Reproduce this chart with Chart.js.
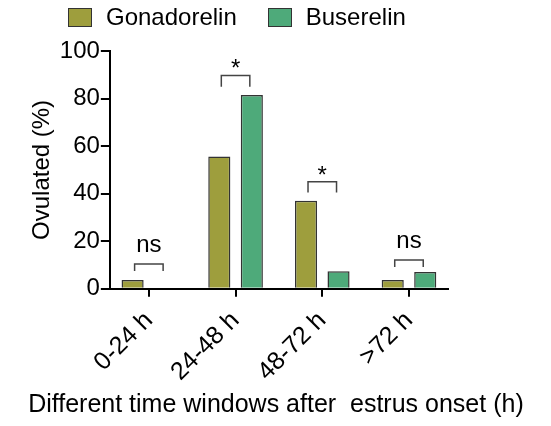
<!DOCTYPE html>
<html>
<head>
<meta charset="utf-8">
<script src="https://cdn.jsdelivr.net/npm/chart.js@4/dist/chart.umd.min.js"></script>
<style>
  html, body { margin: 0; padding: 0; background: #fff; }
  #wrap { position: relative; width: 551px; height: 426px; }
  #legend { position: absolute; left: 68px; top: 7px; display: flex; font-family: Arial, "Liberation Sans", sans-serif; font-size: 24px; color: #000; }
  #legend .item { display: flex; align-items: center; margin-right: 31px; height: 20px; }
  #legend .box { width: 22px; height: 17px; border: 1.5px solid #333; margin-right: 14px; }
</style>
</head>
<body>
<div id="wrap">
  <canvas id="chart" width="551" height="426"></canvas>
  <div id="legend"></div>
</div>
<script>
const categories = ['0-24 h', '24-48 h', '48-72 h', '>72 h']
const gonadorelin = [3.7, 55.6, 37.0, 3.7]
const buserelin = [0, 81.5, 7.4, 7.1]
const yTicks = [0, 20, 40, 60, 80, 100]
const xTitle = 'Different time windows after  estrus onset (h)'

// significance brackets (in % units)
const sigLabels = ['ns', '*', '*', 'ns']
const bracketTop = [10.4, 89.7, 45.0, 12.1]
const bracketFoot = [7.5, 85.0, 40.5, 9.2]

const font = 'Arial, "Liberation Sans", sans-serif'

const brackets = {
  id: 'brackets',
  afterDatasetsDraw(chart) {
    const ctx = chart.ctx
    const y = chart.scales.y
    const a = chart.getDatasetMeta(0).data
    const b = chart.getDatasetMeta(1).data
    ctx.save()
    ctx.strokeStyle = '#444'
    ctx.lineWidth = 1.5
    ctx.fillStyle = '#000'
    ctx.textAlign = 'center'
    ctx.textBaseline = 'alphabetic'
    ctx.font = '24px ' + font
    sigLabels.forEach((lab, i) => {
      const x1 = a[i].x + 2, x2 = b[i].x - 2
      const yt = y.getPixelForValue(bracketTop[i])
      const yf = y.getPixelForValue(bracketFoot[i])
      ctx.beginPath()
      ctx.moveTo(x1, yf)
      ctx.lineTo(x1, yt)
      ctx.lineTo(x2, yt)
      ctx.lineTo(x2, yf)
      ctx.stroke()
      ctx.fillText(lab, (x1 + x2) / 2, lab === '*' ? yt + 1 : yt - 12)
    })
    ctx.restore()
  }
}

// the x title is wider than the plot, chart.js would squeeze it, so draw it here
const xTitlePlugin = {
  id: 'xTitle',
  afterDraw(chart) {
    const ctx = chart.ctx
    const a = chart.chartArea
    ctx.save()
    ctx.font = '25px ' + font
    ctx.fillStyle = '#000'
    ctx.textAlign = 'center'
    ctx.textBaseline = 'alphabetic'
    ctx.fillText(xTitle, (a.left + a.right) / 2 - 3, 412)
    ctx.restore()
  }
}

const chart = new Chart('chart', {
  type: 'bar',
  data: {
    labels: categories,
    datasets: [
      { label: 'Gonadorelin', data: gonadorelin, backgroundColor: '#9e9e3d', borderColor: '#333', borderWidth: 1.5 },
      { label: 'Buserelin', data: buserelin, backgroundColor: '#4eaa7a', borderColor: '#333', borderWidth: 1.5 }
    ]
  },
  options: {
    responsive: false,
    animation: false,
    layout: { padding: { top: 51, left: 26, right: 103, bottom: 30 } },
    datasets: { bar: { categoryPercentage: 0.75, barPercentage: 0.68 } },
    plugins: { legend: { display: false }, tooltip: { enabled: false } },
    scales: {
      x: {
        offset: false,
        // a bit less room at both ends than a plain offset axis
        afterBuildTicks: s => { s._startValue = -0.45; s._valueRange = 3.9 },
        grid: { offset: false, drawOnChartArea: false, drawTicks: true, tickLength: 8, color: '#000', lineWidth: 2 },
        border: { color: '#000', width: 2 },
        ticks: { color: '#000', font: { family: font, size: 25 }, minRotation: 45, maxRotation: 45, padding: 9 }
      },
      y: {
        min: 0, max: 100,
        afterBuildTicks: s => { s.ticks = yTicks.map(v => ({ value: v })) },
        grid: { drawOnChartArea: false, drawTicks: true, tickLength: 9, color: '#000', lineWidth: 2 },
        border: { color: '#000', width: 2 },
        ticks: { color: '#000', font: { family: font, size: 24 }, padding: 1 },
        title: { display: true, text: 'Ovulated (%)', color: '#000', font: { family: font, size: 24 }, padding: 2 }
      }
    }
  },
  plugins: [brackets, xTitlePlugin]
})

// html legend built from the datasets
const leg = document.getElementById('legend')
chart.data.datasets.forEach(ds => {
  const it = document.createElement('div')
  it.className = 'item'
  const box = document.createElement('span')
  box.className = 'box'
  box.style.background = ds.backgroundColor
  const t = document.createElement('span')
  t.textContent = ds.label
  it.appendChild(box)
  it.appendChild(t)
  leg.appendChild(it)
})
</script>
</body>
</html>
